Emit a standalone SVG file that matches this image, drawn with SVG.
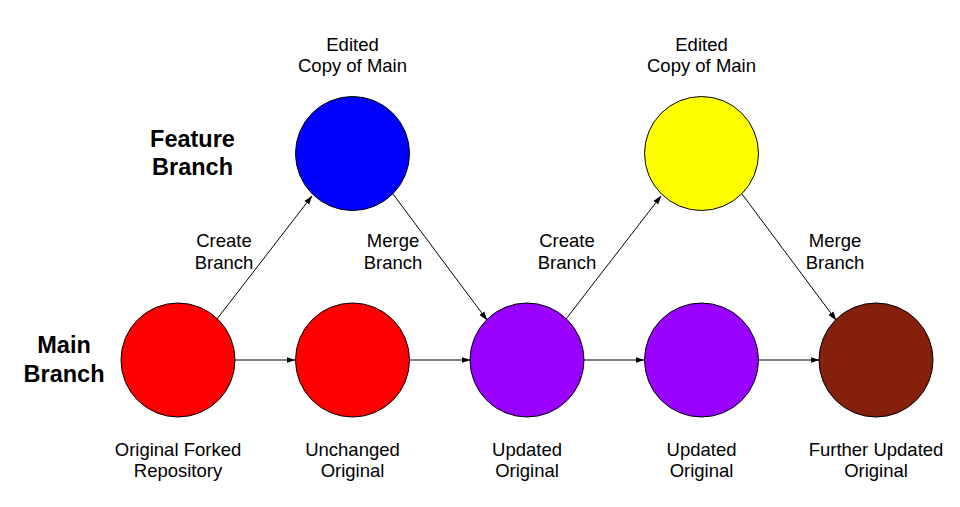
<svg xmlns="http://www.w3.org/2000/svg" width="960" height="507" viewBox="0 0 960 507">
<style>
.n{stroke:#000;stroke-width:1}
.t{font-family:"Liberation Sans",Arial,sans-serif;font-size:18.5px;fill:#000;text-anchor:middle}
.b{font-family:"Liberation Sans",Arial,sans-serif;font-size:23.5px;font-weight:bold;fill:#000;text-anchor:middle}
.c line{stroke:#000;stroke-width:1;marker-end:url(#ah)}
</style>
<defs>
<marker id="ah" markerWidth="9" markerHeight="7" refX="8.5" refY="3.5" orient="auto" markerUnits="userSpaceOnUse">
<path d="M0,0.5 L9,3.5 L0,6.5 Z" fill="#000"/>
</marker>
</defs>
<rect width="960" height="507" fill="#fff"/>
<text class="b" x="192.5" y="147">Feature</text>
<text class="b" x="192.5" y="175">Branch</text>
<text class="b" x="64" y="353">Main</text>
<text class="b" x="64" y="382">Branch</text>
<g class="c">
<line x1="235" y1="360" x2="295" y2="360"/>
<line x1="410" y1="360" x2="470" y2="360"/>
<line x1="584" y1="360" x2="644" y2="360"/>
<line x1="759" y1="360" x2="819" y2="360"/>
<line x1="217" y1="319" x2="312" y2="196"/>
<line x1="393" y1="194" x2="487" y2="320"/>
<line x1="566" y1="319" x2="661" y2="196"/>
<line x1="742" y1="194" x2="836" y2="320"/>
</g>
<g id="n1"><circle class="n" cx="178" cy="360" r="57" fill="#ff0000"/><text class="t" x="178" y="456">Original Forked</text><text class="t" x="178" y="477">Repository</text></g>
<g id="n2"><circle class="n" cx="352.5" cy="360" r="57" fill="#ff0000"/><text class="t" x="352.5" y="456">Unchanged</text><text class="t" x="352.5" y="477">Original</text></g>
<g id="n3"><circle class="n" cx="527" cy="360" r="57" fill="#9900ff"/><text class="t" x="527" y="456">Updated</text><text class="t" x="527" y="477">Original</text></g>
<g id="n4"><circle class="n" cx="701.5" cy="360" r="57" fill="#9900ff"/><text class="t" x="701.5" y="456">Updated</text><text class="t" x="701.5" y="477">Original</text></g>
<g id="n5"><circle class="n" cx="876" cy="360" r="57" fill="#85200c"/><text class="t" x="876" y="456">Further Updated</text><text class="t" x="876" y="477">Original</text></g>
<g id="f1"><circle class="n" cx="352.5" cy="153.5" r="57" fill="#0000ff"/><text class="t" x="352.5" y="51">Edited</text><text class="t" x="352.5" y="72">Copy of Main</text></g>
<g id="f2"><circle class="n" cx="701.5" cy="153.5" r="57" fill="#ffff00"/><text class="t" x="701.5" y="51">Edited</text><text class="t" x="701.5" y="72">Copy of Main</text></g>
<g id="labels">
<text class="t" x="224" y="247">Create</text><text class="t" x="224" y="269">Branch</text>
<text class="t" x="393" y="247">Merge</text><text class="t" x="393" y="269">Branch</text>
<text class="t" x="567" y="247">Create</text><text class="t" x="567" y="269">Branch</text>
<text class="t" x="835" y="247">Merge</text><text class="t" x="835" y="269">Branch</text>
</g>
</svg>
